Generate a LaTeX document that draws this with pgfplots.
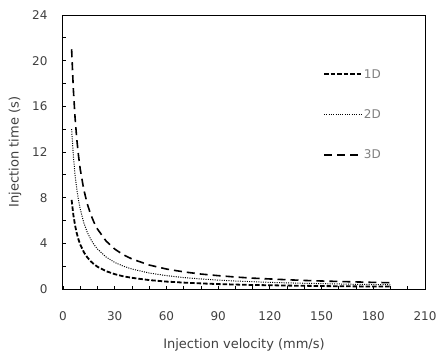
\documentclass[border=0pt]{standalone}
\usepackage{fontspec}
\setmainfont{DejaVu Sans}
\usepackage{pgfplots}
\pgfplotsset{compat=1.18}
\definecolor{txt}{HTML}{404040}
\definecolor{legtxt}{HTML}{7F7F7F}
\begin{document}
\begin{tikzpicture}
\begin{axis}[
  scale only axis, width=362bp, height=274bp,
  xmin=0, xmax=210, ymin=0, ymax=24,
  xtick={0,30,...,210}, ytick={0,4,...,24},
  minor x tick num=2, minor y tick num=1,
  xtick pos=left, ytick pos=left,
  tick align=inside,
  major tick length=3.5bp, minor tick length=3.5bp,
  tick style={black, line width=0.8bp},
  axis line style={black, line width=1bp},
  /pgf/number format/assume math mode=true,
  ticklabel style={font=\fontsize{12bp}{14bp}\selectfont, text=txt},
  xticklabel style={yshift=-19bp},
  yticklabel style={xshift=-12bp},
  xlabel={Injection velocity (mm/s)},
  ylabel={Injection time (s)},
  label style={font=\fontsize{13bp}{15bp}\selectfont, text=txt},
  xlabel style={at={([yshift=-56bp]axis description cs:0.5,0)}, anchor=center},
  ylabel style={at={([xshift=-48bp]axis description cs:0,0.5)}, anchor=center},
  legend style={draw=none, fill=none, at={(0.718,0.81)}, anchor=north west,
    font=\fontsize{12bp}{14bp}\selectfont, text=legtxt, row sep=26bp,
    inner sep=0pt},
  legend cell align=left,
  legend image code/.code={\draw[#1] (0bp,0bp) -- (37bp,0bp);},
]
\addplot[black, line width=1.8bp, dash pattern=on 4.5bp off 2bp] coordinates {
(5,7.8)(6,6.5)(7,5.57)(8,4.88)(9,4.33)(10,3.9)(12,3.25)(14,2.79)(16,2.44)(18,2.17)(20,1.95)(25,1.56)(30,1.3)(35,1.11)(40,0.98)(50,0.78)(60,0.65)(70,0.56)(80,0.49)(90,0.43)(100,0.39)(110,0.35)(120,0.33)(130,0.3)(140,0.28)(150,0.26)(160,0.24)(170,0.23)(180,0.22)(190,0.21)};
\addlegendentry{1D}
\addplot[black, line width=1bp, dash pattern=on 1bp off 1.3bp] coordinates {
(5,14)(6,11.67)(7,10)(8,8.75)(9,7.78)(10,7)(12,5.83)(14,5)(16,4.38)(18,3.89)(20,3.5)(25,2.8)(30,2.33)(35,2)(40,1.75)(50,1.4)(60,1.17)(70,1)(80,0.88)(90,0.78)(100,0.7)(110,0.64)(120,0.58)(130,0.54)(140,0.5)(150,0.47)(160,0.44)(170,0.41)(180,0.39)(190,0.37)};
\addlegendentry{2D}
\addplot[black, line width=1.6bp, dash pattern=on 8bp off 5bp] coordinates {
(5,21)(6,17.5)(7,15)(8,13.13)(9,11.67)(10,10.5)(12,8.75)(14,7.5)(16,6.56)(18,5.83)(20,5.25)(25,4.2)(30,3.5)(35,3)(40,2.63)(50,2.1)(60,1.75)(70,1.5)(80,1.31)(90,1.17)(100,1.05)(110,0.95)(120,0.88)(130,0.81)(140,0.75)(150,0.7)(160,0.66)(170,0.62)(180,0.58)(190,0.55)};
\addlegendentry{3D}
\end{axis}
\pgfresetboundingbox
\path (current axis.south west) ++(-63bp,-63bp) rectangle ++(436bp,352bp);
\end{tikzpicture}
\end{document}
